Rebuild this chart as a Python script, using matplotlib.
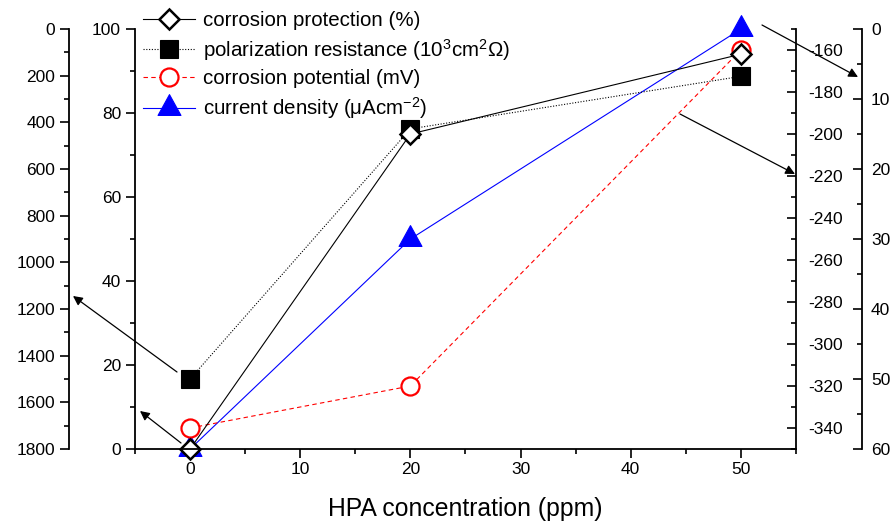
import matplotlib
matplotlib.use("Agg")
import matplotlib.pyplot as plt
from matplotlib.path import Path
from matplotlib.patches import FancyArrowPatch
from matplotlib.ticker import MultipleLocator

plt.rcParams['font.family'] = ['Liberation Sans', 'DejaVu Sans']
plt.rcParams['mathtext.fontset'] = 'custom'
plt.rcParams['mathtext.rm'] = 'Liberation Sans'
plt.rcParams['mathtext.it'] = 'Liberation Sans'
plt.rcParams['axes.unicode_minus'] = False

# ---- data ----
conc = [0, 20, 50]
protection = [0, 75, 94]            # %
resistance = [1500, 428, 203]       # 10^3 cm^2 Ohm (inverted axis)
potential = [-340, -320, -160]      # mV
current = [60, 30, 0]               # uA cm^-2 (inverted axis)

labels = ["corrosion protection (%)",
          r"polarization resistance (10$^{3}$cm$^{2}\Omega$)",
          "corrosion potential (mV)",
          r"current density ($\mu$Acm$^{-2}$)"]

W, H = 892, 523
fig = plt.figure(figsize=(W / 100, H / 100), dpi=100)

L, R, T, B = 135, 796, 29, 449
rect = [L / W, 1 - B / H, (R - L) / W, (B - T) / H]

axC = fig.add_axes(rect)          # current density (lowest)
axP = fig.add_axes(rect, sharex=axC)
axL = fig.add_axes(rect, sharex=axC)
ax = fig.add_axes(rect, sharex=axC)  # corrosion protection (top)

for a in (axC, axP, axL, ax):
    a.patch.set_visible(False)
    for s in a.spines.values():
        s.set_visible(False)
        s.set_linewidth(1.3)
    a.tick_params(which='both', width=1.2, labelsize=12.5, colors='black')
    a.tick_params(which='major', length=6.5)
    a.tick_params(which='minor', length=3.6)

# centroid-centred triangle (as drawn by Origin)
tri = Path([(0, 2 / 3), (-0.55, -1 / 3), (0.55, -1 / 3), (0, 2 / 3)],
           [Path.MOVETO, Path.LINETO, Path.LINETO, Path.CLOSEPOLY])

lC, = axC.plot(conc, current, color='#0000FF', lw=0.8, marker=tri, ms=20,
               mfc='#0000FF', mec='#0000FF', mew=0.8, clip_on=False)
lP, = axP.plot(conc, potential, color='#FF0000', lw=0.8, ls=(0, (4, 3)), marker='o', ms=13,
               mfc='white', mec='#FF0000', mew=1.6, clip_on=False)
lL, = axL.plot(conc, resistance, color='black', lw=0.8, ls=(0, (1, 1.5)), marker='s', ms=13.5,
               mfc='black', mec='black', mew=0.8, clip_on=False)
lD, = ax.plot(conc, protection, color='black', lw=0.8, marker='D', ms=10.5,
              mfc='white', mec='black', mew=1.8, clip_on=False)

# x axis
ax.set_xlim(-5, 55)
ax.spines['bottom'].set_visible(True)
ax.xaxis.set_major_locator(MultipleLocator(10))
ax.xaxis.set_minor_locator(MultipleLocator(5))
ax.tick_params(axis='x', which='both', direction='out', pad=3)
ax.set_xlabel("HPA concentration (ppm)", fontsize=17.8, labelpad=14.5)
for a in (axC, axP, axL):
    a.tick_params(axis='x', which='both', bottom=False, labelbottom=False)

# main y (0-100)
ax.set_ylim(0, 100)
ax.spines['left'].set_visible(True)
ax.yaxis.set_major_locator(MultipleLocator(20))
ax.yaxis.set_minor_locator(MultipleLocator(10))
ax.tick_params(axis='y', which='both', direction='out', pad=3.5)

# left-most (0-1800 inverted)
axL.set_ylim(1800, 0)
axL.spines['left'].set_visible(True)
axL.spines['left'].set_position(('axes', (69 - L) / (R - L)))
axL.yaxis.set_major_locator(MultipleLocator(200))
axL.yaxis.set_minor_locator(MultipleLocator(100))
axL.tick_params(axis='y', which='both', direction='out', pad=3.5)

# potential axis (right spine)
axP.set_ylim(-350, -150)
axP.yaxis.tick_right()
axP.spines['right'].set_visible(True)
axP.set_yticks([-160, -180, -200, -220, -240, -260, -280, -300, -320, -340])
axP.yaxis.set_minor_locator(MultipleLocator(10))
axP.tick_params(axis='y', which='both', direction='in', pad=9)

# current axis (outer right, inverted)
axC.set_ylim(60, 0)
axC.yaxis.tick_right()
axC.spines['right'].set_visible(True)
axC.spines['right'].set_position(('axes', (862 - L) / (R - L)))
axC.yaxis.set_major_locator(MultipleLocator(10))
axC.yaxis.set_minor_locator(MultipleLocator(5))
axC.tick_params(axis='y', which='both', direction='in', pad=6.5)

# legend
leg = ax.legend([lD, lL, lP, lC], labels, loc='upper left',
                bbox_to_anchor=(143 / W, 1 - 11 / H), bbox_transform=fig.transFigure,
                frameon=False, fontsize=14.8, handlelength=2.55, handletextpad=0.35,
                labelspacing=0.33, borderpad=0, borderaxespad=0, markerscale=1.0)

# arrows (figure-pixel annotations, y measured from top)
def fp(x, y):
    return (x / W, 1 - y / H)

arrows = [((177, 372), (73, 296)),
          ((181, 443), (140, 411)),
          ((680, 114), (795, 174)),
          ((762, 25), (858, 77))]
for tail, head in arrows:
    fig.add_artist(FancyArrowPatch(
        fp(*tail), fp(*head), transform=fig.transFigure, arrowstyle='-|>',
        mutation_scale=14, lw=0.9, color='black', shrinkA=0, shrinkB=0))

fig.savefig("out.png", dpi=100)
